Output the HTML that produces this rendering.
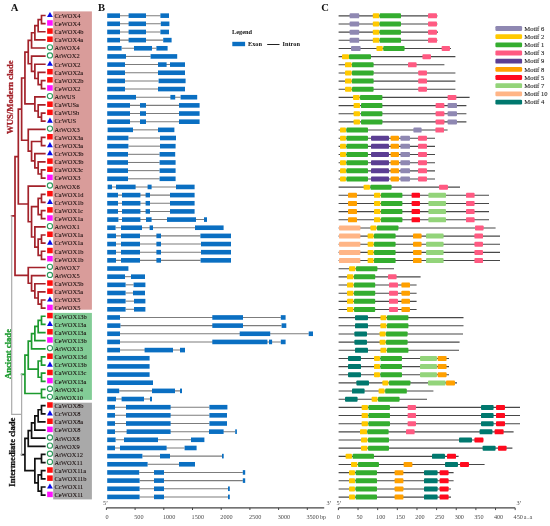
<!DOCTYPE html>
<html><head><meta charset="utf-8"><style>
html,body{margin:0;padding:0;background:#fff;}
body{width:550px;height:526px;overflow:hidden;}
svg{display:block;font-family:"Liberation Serif",serif;will-change:transform;}
.pl{font-size:10.6px;font-weight:bold;fill:#111;}
.nm{font-size:7px;fill:#140808;stroke:#140808;stroke-width:0.06px;}
.lg{font-size:6.3px;font-weight:bold;fill:#111;}
.ax{font-size:6.2px;fill:#4a4a4a;}
.mt{font-size:6.6px;fill:#222;stroke:#222;stroke-width:0.1px;}
</style></head><body>
<svg width="550" height="526" viewBox="0 0 550 526">
<rect x="53.2" y="11.4" width="38.7" height="298.3" fill="#d99c9a"/>
<rect x="53.2" y="312.9" width="38.7" height="87" fill="#82cc96"/>
<rect x="53.2" y="402.7" width="38.7" height="96.7" fill="#a9a9a9"/>
<text x="10.8" y="10.9" class="pl">A</text>
<text x="98.0" y="10.9" class="pl">B</text>
<text x="321.2" y="10.9" class="pl">C</text>
<text transform="translate(12.6,97.2) rotate(-90)" text-anchor="middle" font-size="8.7" font-weight="bold" fill="#a3222a" stroke="#a3222a" stroke-width="0.3">WUS/Modern clade</text>
<text transform="translate(10.7,354) rotate(-90)" text-anchor="middle" font-size="8.6" font-weight="bold" fill="#1c9a2e" stroke="#1c9a2e" stroke-width="0.3">Ancient clade</text>
<text transform="translate(15.3,452.2) rotate(-90)" text-anchor="middle" font-size="8.6" font-weight="bold" fill="#111" stroke="#111" stroke-width="0.3">Intermediate clade</text>
<path d="M15.01 156.55L15.01 275.37M15.01 156.55L18.32 156.55M18.32 109.11L18.32 203.99M18.32 109.11L21.63 109.11M21.63 77.99L21.63 140.23M21.63 77.99L24.94 77.99M24.94 52.08L24.94 103.9M24.94 52.08L28.25 52.08M28.25 40.4L28.25 63.77M28.25 40.4L31.56 40.4M31.56 32.77L31.56 48.02M31.56 32.77L34.87 32.77M34.87 25.66L34.87 39.89M34.87 25.66L38.18 25.66M38.18 19.56L38.18 31.76M38.18 19.56L41.49 19.56M41.49 15.5L41.49 23.63M41.49 15.5L44.8 15.5M41.49 23.63L44.8 23.63M38.18 31.76L44.8 31.76M34.87 39.89L44.8 39.89M31.56 48.02L44.8 48.02M28.25 63.77L31.56 63.77M31.56 56.14L31.56 71.39M31.56 56.14L44.8 56.14M31.56 71.39L34.87 71.39M34.87 64.27L34.87 78.5M34.87 64.27L44.8 64.27M34.87 78.5L38.18 78.5M38.18 72.4L38.18 84.6M38.18 72.4L44.8 72.4M38.18 84.6L41.49 84.6M41.49 80.53L41.49 88.66M41.49 80.53L44.8 80.53M41.49 88.66L44.8 88.66M24.94 103.9L34.87 103.9M34.87 96.79L34.87 111.02M34.87 96.79L44.8 96.79M34.87 111.02L38.18 111.02M38.18 104.92L38.18 117.11M38.18 104.92L44.8 104.92M38.18 117.11L41.49 117.11M41.49 113.05L41.49 121.18M41.49 113.05L44.8 113.05M41.49 121.18L44.8 121.18M21.63 140.23L28.25 140.23M28.25 129.31L28.25 151.15M28.25 129.31L44.8 129.31M28.25 151.15L31.56 151.15M31.56 141.5L31.56 160.81M31.56 141.5L41.49 141.5M41.49 137.44L41.49 145.56M41.49 137.44L44.8 137.44M41.49 145.56L44.8 145.56M31.56 160.81L34.87 160.81M34.87 153.69L34.87 167.92M34.87 153.69L44.8 153.69M34.87 167.92L38.18 167.92M38.18 161.82L38.18 174.02M38.18 161.82L44.8 161.82M38.18 174.02L41.49 174.02M41.49 169.95L41.49 178.08M41.49 169.95L44.8 169.95M41.49 178.08L44.8 178.08M18.32 203.99L28.25 203.99M28.25 186.21L28.25 221.77M28.25 186.21L44.8 186.21M28.25 221.77L31.56 221.77M31.56 206.53L31.56 237.02M31.56 206.53L38.18 206.53M38.18 198.4L38.18 214.66M38.18 198.4L41.49 198.4M41.49 194.34L41.49 202.47M41.49 194.34L44.8 194.34M41.49 202.47L44.8 202.47M38.18 214.66L41.49 214.66M41.49 210.6L41.49 218.72M41.49 210.6L44.8 210.6M41.49 218.72L44.8 218.72M31.56 237.02L34.87 237.02M34.87 226.85L34.87 247.18M34.87 226.85L44.8 226.85M34.87 247.18L38.18 247.18M38.18 239.05L38.18 255.31M38.18 239.05L41.49 239.05M41.49 234.98L41.49 243.11M41.49 234.98L44.8 234.98M41.49 243.11L44.8 243.11M38.18 255.31L41.49 255.31M41.49 251.24L41.49 259.37M41.49 251.24L44.8 251.24M41.49 259.37L44.8 259.37M15.01 275.37L28.25 275.37M28.25 267.5L28.25 283.25M28.25 267.5L44.8 267.5M28.25 283.25L31.56 283.25M31.56 275.63L31.56 290.87M31.56 275.63L44.8 275.63M31.56 290.87L34.87 290.87M34.87 283.76L34.87 297.98M34.87 283.76L44.8 283.76M34.87 297.98L38.18 297.98M38.18 291.89L38.18 304.08M38.18 291.89L44.8 291.89M38.18 304.08L41.49 304.08M41.49 300.01L41.49 308.14M41.49 300.01L44.8 300.01M41.49 308.14L44.8 308.14M11.7 215.96L15.01 215.96" stroke="#a3222a" stroke-width="1.7" fill="none" stroke-linecap="square"/>
<path d="M24.94 355.14L24.94 393.5M24.94 355.14L28.25 355.14M28.25 341.17L28.25 369.11M28.25 341.17L31.56 341.17M31.56 333.55L31.56 348.79M31.56 348.79L44.8 348.79M31.56 333.55L34.87 333.55M34.87 326.43L34.87 340.66M34.87 340.66L44.8 340.66M34.87 326.43L38.18 326.43M38.18 320.34L38.18 332.53M38.18 332.53L44.8 332.53M38.18 320.34L41.49 320.34M41.49 316.27L41.49 324.4M41.49 316.27L44.8 316.27M41.49 324.4L44.8 324.4M28.25 369.11L38.18 369.11M38.18 360.98L38.18 377.24M38.18 360.98L41.49 360.98M41.49 356.92L41.49 365.05M41.49 356.92L44.8 356.92M41.49 365.05L44.8 365.05M38.18 377.24L41.49 377.24M41.49 373.18L41.49 381.31M41.49 373.18L44.8 373.18M41.49 381.31L44.8 381.31M24.94 393.5L41.49 393.5M41.49 389.43L41.49 397.56M41.49 389.43L44.8 389.43M41.49 397.56L44.8 397.56M21.63 374.32L24.94 374.32" stroke="#1c9a2e" stroke-width="1.7" fill="none" stroke-linecap="square"/>
<path d="M24.94 438.46L24.94 470.72M24.94 438.46L28.25 438.46M28.25 430.59L28.25 446.34M28.25 446.34L44.8 446.34M28.25 430.59L31.56 430.59M31.56 422.97L31.56 438.21M31.56 438.21L44.8 438.21M31.56 422.97L34.87 422.97M34.87 415.85L34.87 430.08M34.87 430.08L44.8 430.08M34.87 415.85L38.18 415.85M38.18 409.76L38.18 421.95M38.18 421.95L44.8 421.95M38.18 409.76L41.49 409.76M41.49 405.69L41.49 413.82M41.49 405.69L44.8 405.69M41.49 413.82L44.8 413.82M24.94 470.72L34.87 470.72M34.87 458.53L34.87 482.92M34.87 458.53L41.49 458.53M41.49 454.47L41.49 462.59M41.49 454.47L44.8 454.47M41.49 462.59L44.8 462.59M34.87 482.92L38.18 482.92M38.18 474.79L38.18 491.05M38.18 474.79L41.49 474.79M41.49 470.72L41.49 478.85M41.49 470.72L44.8 470.72M41.49 478.85L44.8 478.85M38.18 491.05L41.49 491.05M41.49 486.98L41.49 495.11M41.49 486.98L44.8 486.98M41.49 495.11L44.8 495.11M21.63 454.59L24.94 454.59" stroke="#111111" stroke-width="1.7" fill="none" stroke-linecap="square"/>
<path d="M11.7 414.46L21.63 414.46M11.7 215.96L11.7 414.46M21.63 374.32L21.63 454.59" stroke="#ababab" stroke-width="1.2" fill="none" stroke-linecap="square"/>
<path d="M49.95 11.9L52.9 17.1L47 17.1Z" fill="#0a0ae6"/>
<text x="0" y="0" class="nm" transform="translate(54.5,17.8) scale(0.925,1)">CcWOX4</text>
<rect x="47.15" y="20.18" width="5.6" height="5.5" fill="#ff10ff"/>
<text x="0" y="0" class="nm" transform="translate(54.5,25.93) scale(0.925,1)">CeWOX4</text>
<rect x="47.15" y="28.31" width="5.6" height="5.5" fill="#ff0d0d"/>
<text x="0" y="0" class="nm" transform="translate(54.5,34.06) scale(0.925,1)">CaWOX4b</text>
<rect x="47.15" y="36.44" width="5.6" height="5.5" fill="#ff0d0d"/>
<text x="0" y="0" class="nm" transform="translate(54.5,42.19) scale(0.925,1)">CaWOX4a</text>
<circle cx="49.95" cy="47.32" r="2.6" fill="none" stroke="#2e9a5c" stroke-width="1.1"/>
<text x="0" y="0" class="nm" transform="translate(54.5,50.32) scale(0.925,1)">AtWOX4</text>
<circle cx="49.95" cy="55.44" r="2.6" fill="none" stroke="#2e9a5c" stroke-width="1.1"/>
<text x="0" y="0" class="nm" transform="translate(54.5,58.44) scale(0.925,1)">AtWOX2</text>
<path d="M49.95 60.67L52.9 65.87L47 65.87Z" fill="#0a0ae6"/>
<text x="0" y="0" class="nm" transform="translate(54.5,66.57) scale(0.925,1)">CcWOX2</text>
<rect x="47.15" y="68.95" width="5.6" height="5.5" fill="#ff0d0d"/>
<text x="0" y="0" class="nm" transform="translate(54.5,74.7) scale(0.925,1)">CaWOX2a</text>
<rect x="47.15" y="77.08" width="5.6" height="5.5" fill="#ff0d0d"/>
<text x="0" y="0" class="nm" transform="translate(54.5,82.83) scale(0.925,1)">CaWOX2b</text>
<rect x="47.15" y="85.21" width="5.6" height="5.5" fill="#ff10ff"/>
<text x="0" y="0" class="nm" transform="translate(54.5,90.96) scale(0.925,1)">CeWOX2</text>
<circle cx="49.95" cy="96.09" r="2.6" fill="none" stroke="#2e9a5c" stroke-width="1.1"/>
<text x="0" y="0" class="nm" transform="translate(54.5,99.09) scale(0.925,1)">AtWUS</text>
<rect x="47.15" y="101.47" width="5.6" height="5.5" fill="#ff0d0d"/>
<text x="0" y="0" class="nm" transform="translate(54.5,107.22) scale(0.925,1)">CaWUSa</text>
<rect x="47.15" y="109.6" width="5.6" height="5.5" fill="#ff0d0d"/>
<text x="0" y="0" class="nm" transform="translate(54.5,115.35) scale(0.925,1)">CaWUSb</text>
<path d="M49.95 117.58L52.9 122.78L47 122.78Z" fill="#0a0ae6"/>
<text x="0" y="0" class="nm" transform="translate(54.5,123.48) scale(0.925,1)">CcWUS</text>
<circle cx="49.95" cy="128.61" r="2.6" fill="none" stroke="#2e9a5c" stroke-width="1.1"/>
<text x="0" y="0" class="nm" transform="translate(54.5,131.61) scale(0.925,1)">AtWOX3</text>
<rect x="47.15" y="133.99" width="5.6" height="5.5" fill="#ff0d0d"/>
<text x="0" y="0" class="nm" transform="translate(54.5,139.74) scale(0.925,1)">CaWOX3a</text>
<path d="M49.95 141.96L52.9 147.16L47 147.16Z" fill="#0a0ae6"/>
<text x="0" y="0" class="nm" transform="translate(54.5,147.86) scale(0.925,1)">CcWOX3a</text>
<path d="M49.95 150.09L52.9 155.29L47 155.29Z" fill="#0a0ae6"/>
<text x="0" y="0" class="nm" transform="translate(54.5,155.99) scale(0.925,1)">CcWOX3b</text>
<rect x="47.15" y="158.37" width="5.6" height="5.5" fill="#ff0d0d"/>
<text x="0" y="0" class="nm" transform="translate(54.5,164.12) scale(0.925,1)">CaWOX3b</text>
<rect x="47.15" y="166.5" width="5.6" height="5.5" fill="#ff0d0d"/>
<text x="0" y="0" class="nm" transform="translate(54.5,172.25) scale(0.925,1)">CaWOX3c</text>
<rect x="47.15" y="174.63" width="5.6" height="5.5" fill="#ff10ff"/>
<text x="0" y="0" class="nm" transform="translate(54.5,180.38) scale(0.925,1)">CeWOX3</text>
<circle cx="49.95" cy="185.51" r="2.6" fill="none" stroke="#2e9a5c" stroke-width="1.1"/>
<text x="0" y="0" class="nm" transform="translate(54.5,188.51) scale(0.925,1)">AtWOX6</text>
<rect x="47.15" y="190.89" width="5.6" height="5.5" fill="#ff0d0d"/>
<text x="0" y="0" class="nm" transform="translate(54.5,196.64) scale(0.925,1)">CaWOX1d</text>
<path d="M49.95 198.87L52.9 204.07L47 204.07Z" fill="#0a0ae6"/>
<text x="0" y="0" class="nm" transform="translate(54.5,204.77) scale(0.925,1)">CcWOX1b</text>
<rect x="47.15" y="207.15" width="5.6" height="5.5" fill="#ff0d0d"/>
<text x="0" y="0" class="nm" transform="translate(54.5,212.9) scale(0.925,1)">CaWOX1c</text>
<rect x="47.15" y="215.28" width="5.6" height="5.5" fill="#ff10ff"/>
<text x="0" y="0" class="nm" transform="translate(54.5,221.03) scale(0.925,1)">CeWOX1a</text>
<circle cx="49.95" cy="226.15" r="2.6" fill="none" stroke="#2e9a5c" stroke-width="1.1"/>
<text x="0" y="0" class="nm" transform="translate(54.5,229.15) scale(0.925,1)">AtWOX1</text>
<rect x="47.15" y="231.53" width="5.6" height="5.5" fill="#ff0d0d"/>
<text x="0" y="0" class="nm" transform="translate(54.5,237.28) scale(0.925,1)">CaWOX1a</text>
<path d="M49.95 239.51L52.9 244.71L47 244.71Z" fill="#0a0ae6"/>
<text x="0" y="0" class="nm" transform="translate(54.5,245.41) scale(0.925,1)">CcWOX1a</text>
<rect x="47.15" y="247.79" width="5.6" height="5.5" fill="#ff0d0d"/>
<text x="0" y="0" class="nm" transform="translate(54.5,253.54) scale(0.925,1)">CaWOX1b</text>
<rect x="47.15" y="255.92" width="5.6" height="5.5" fill="#ff10ff"/>
<text x="0" y="0" class="nm" transform="translate(54.5,261.67) scale(0.925,1)">CeWOX1b</text>
<circle cx="49.95" cy="266.8" r="2.6" fill="none" stroke="#2e9a5c" stroke-width="1.1"/>
<text x="0" y="0" class="nm" transform="translate(54.5,269.8) scale(0.925,1)">AtWOX7</text>
<circle cx="49.95" cy="274.93" r="2.6" fill="none" stroke="#2e9a5c" stroke-width="1.1"/>
<text x="0" y="0" class="nm" transform="translate(54.5,277.93) scale(0.925,1)">AtWOX5</text>
<rect x="47.15" y="280.31" width="5.6" height="5.5" fill="#ff0d0d"/>
<text x="0" y="0" class="nm" transform="translate(54.5,286.06) scale(0.925,1)">CaWOX5b</text>
<rect x="47.15" y="288.44" width="5.6" height="5.5" fill="#ff0d0d"/>
<text x="0" y="0" class="nm" transform="translate(54.5,294.19) scale(0.925,1)">CaWOX5a</text>
<path d="M49.95 296.42L52.9 301.62L47 301.62Z" fill="#0a0ae6"/>
<text x="0" y="0" class="nm" transform="translate(54.5,302.31) scale(0.925,1)">CcWOX5</text>
<rect x="47.15" y="304.69" width="5.6" height="5.5" fill="#ff10ff"/>
<text x="0" y="0" class="nm" transform="translate(54.5,310.44) scale(0.925,1)">CeWOX5</text>
<rect x="47.15" y="312.82" width="5.6" height="5.5" fill="#ff0d0d"/>
<text x="0" y="0" class="nm" transform="translate(54.5,318.57) scale(0.925,1)">CaWOX13b</text>
<path d="M49.95 320.8L52.9 326L47 326Z" fill="#0a0ae6"/>
<text x="0" y="0" class="nm" transform="translate(54.5,326.7) scale(0.925,1)">CcWOX13a</text>
<rect x="47.15" y="329.08" width="5.6" height="5.5" fill="#ff0d0d"/>
<text x="0" y="0" class="nm" transform="translate(54.5,334.83) scale(0.925,1)">CaWOX13a</text>
<rect x="47.15" y="337.21" width="5.6" height="5.5" fill="#ff10ff"/>
<text x="0" y="0" class="nm" transform="translate(54.5,342.96) scale(0.925,1)">CeWOX13b</text>
<circle cx="49.95" cy="348.09" r="2.6" fill="none" stroke="#2e9a5c" stroke-width="1.1"/>
<text x="0" y="0" class="nm" transform="translate(54.5,351.09) scale(0.925,1)">AtWOX13</text>
<rect x="47.15" y="353.47" width="5.6" height="5.5" fill="#ff0d0d"/>
<text x="0" y="0" class="nm" transform="translate(54.5,359.22) scale(0.925,1)">CaWOX13d</text>
<path d="M49.95 361.45L52.9 366.65L47 366.65Z" fill="#0a0ae6"/>
<text x="0" y="0" class="nm" transform="translate(54.5,367.35) scale(0.925,1)">CcWOX13b</text>
<rect x="47.15" y="369.73" width="5.6" height="5.5" fill="#ff0d0d"/>
<text x="0" y="0" class="nm" transform="translate(54.5,375.48) scale(0.925,1)">CaWOX13c</text>
<rect x="47.15" y="377.86" width="5.6" height="5.5" fill="#ff10ff"/>
<text x="0" y="0" class="nm" transform="translate(54.5,383.61) scale(0.925,1)">CeWOX13a</text>
<circle cx="49.95" cy="388.73" r="2.6" fill="none" stroke="#2e9a5c" stroke-width="1.1"/>
<text x="0" y="0" class="nm" transform="translate(54.5,391.73) scale(0.925,1)">AtWOX14</text>
<circle cx="49.95" cy="396.86" r="2.6" fill="none" stroke="#2e9a5c" stroke-width="1.1"/>
<text x="0" y="0" class="nm" transform="translate(54.5,399.86) scale(0.925,1)">AtWOX10</text>
<rect x="47.15" y="402.24" width="5.6" height="5.5" fill="#ff0d0d"/>
<text x="0" y="0" class="nm" transform="translate(54.5,407.99) scale(0.925,1)">CaWOX8b</text>
<path d="M49.95 410.22L52.9 415.42L47 415.42Z" fill="#0a0ae6"/>
<text x="0" y="0" class="nm" transform="translate(54.5,416.12) scale(0.925,1)">CcWOX8</text>
<rect x="47.15" y="418.5" width="5.6" height="5.5" fill="#ff0d0d"/>
<text x="0" y="0" class="nm" transform="translate(54.5,424.25) scale(0.925,1)">CaWOX8a</text>
<rect x="47.15" y="426.63" width="5.6" height="5.5" fill="#ff10ff"/>
<text x="0" y="0" class="nm" transform="translate(54.5,432.38) scale(0.925,1)">CeWOX8</text>
<circle cx="49.95" cy="437.51" r="2.6" fill="none" stroke="#2e9a5c" stroke-width="1.1"/>
<text x="0" y="0" class="nm" transform="translate(54.5,440.51) scale(0.925,1)">AtWOX8</text>
<circle cx="49.95" cy="445.64" r="2.6" fill="none" stroke="#2e9a5c" stroke-width="1.1"/>
<text x="0" y="0" class="nm" transform="translate(54.5,448.64) scale(0.925,1)">AtWOX9</text>
<circle cx="49.95" cy="453.77" r="2.6" fill="none" stroke="#2e9a5c" stroke-width="1.1"/>
<text x="0" y="0" class="nm" transform="translate(54.5,456.77) scale(0.925,1)">AtWOX12</text>
<circle cx="49.95" cy="461.89" r="2.6" fill="none" stroke="#2e9a5c" stroke-width="1.1"/>
<text x="0" y="0" class="nm" transform="translate(54.5,464.89) scale(0.925,1)">AtWOX11</text>
<rect x="47.15" y="467.27" width="5.6" height="5.5" fill="#ff0d0d"/>
<text x="0" y="0" class="nm" transform="translate(54.5,473.02) scale(0.925,1)">CaWOX11a</text>
<rect x="47.15" y="475.4" width="5.6" height="5.5" fill="#ff0d0d"/>
<text x="0" y="0" class="nm" transform="translate(54.5,481.15) scale(0.925,1)">CaWOX11b</text>
<path d="M49.95 483.38L52.9 488.58L47 488.58Z" fill="#0a0ae6"/>
<text x="0" y="0" class="nm" transform="translate(54.5,489.28) scale(0.925,1)">CcWOX11</text>
<rect x="47.15" y="491.66" width="5.6" height="5.5" fill="#ff10ff"/>
<text x="0" y="0" class="nm" transform="translate(54.5,497.41) scale(0.925,1)">CeWOX11</text>
<line x1="120" y1="15.65" x2="160.4" y2="15.65" stroke="#7c7c7c" stroke-width="1.05"/>
<rect x="107.2" y="13.35" width="12.8" height="4.6" fill="#0a6fc2"/>
<rect x="128.6" y="13.35" width="17.4" height="4.6" fill="#0a6fc2"/>
<rect x="160.4" y="13.35" width="8.6" height="4.6" fill="#0a6fc2"/>
<line x1="120" y1="23.81" x2="160.8" y2="23.81" stroke="#7c7c7c" stroke-width="1.05"/>
<rect x="107.2" y="21.51" width="12.8" height="4.6" fill="#0a6fc2"/>
<rect x="128.6" y="21.51" width="17.4" height="4.6" fill="#0a6fc2"/>
<rect x="160.8" y="21.51" width="8.6" height="4.6" fill="#0a6fc2"/>
<line x1="120" y1="31.96" x2="160.4" y2="31.96" stroke="#7c7c7c" stroke-width="1.05"/>
<rect x="107.2" y="29.66" width="12.8" height="4.6" fill="#0a6fc2"/>
<rect x="128.6" y="29.66" width="17.4" height="4.6" fill="#0a6fc2"/>
<rect x="160.4" y="29.66" width="8.6" height="4.6" fill="#0a6fc2"/>
<line x1="120" y1="40.12" x2="163.2" y2="40.12" stroke="#7c7c7c" stroke-width="1.05"/>
<rect x="107.2" y="37.82" width="12.8" height="4.6" fill="#0a6fc2"/>
<rect x="128.6" y="37.82" width="17.4" height="4.6" fill="#0a6fc2"/>
<rect x="163.2" y="37.82" width="8.4" height="4.6" fill="#0a6fc2"/>
<line x1="121.6" y1="48.28" x2="156.4" y2="48.28" stroke="#7c7c7c" stroke-width="1.05"/>
<rect x="107.6" y="45.98" width="14" height="4.6" fill="#0a6fc2"/>
<rect x="134" y="45.98" width="18" height="4.6" fill="#0a6fc2"/>
<rect x="156.4" y="45.98" width="11.2" height="4.6" fill="#0a6fc2"/>
<line x1="126" y1="56.43" x2="150.6" y2="56.43" stroke="#7c7c7c" stroke-width="1.05"/>
<rect x="107.2" y="54.13" width="18.8" height="4.6" fill="#0a6fc2"/>
<rect x="150.6" y="54.13" width="26.6" height="4.6" fill="#0a6fc2"/>
<line x1="125" y1="64.59" x2="170" y2="64.59" stroke="#7c7c7c" stroke-width="1.05"/>
<rect x="107.2" y="62.29" width="17.8" height="4.6" fill="#0a6fc2"/>
<rect x="158" y="62.29" width="8.6" height="4.6" fill="#0a6fc2"/>
<rect x="170" y="62.29" width="15" height="4.6" fill="#0a6fc2"/>
<line x1="125" y1="72.75" x2="158" y2="72.75" stroke="#7c7c7c" stroke-width="1.05"/>
<rect x="107.2" y="70.45" width="17.8" height="4.6" fill="#0a6fc2"/>
<rect x="158" y="70.45" width="27" height="4.6" fill="#0a6fc2"/>
<line x1="125" y1="80.91" x2="158.6" y2="80.91" stroke="#7c7c7c" stroke-width="1.05"/>
<rect x="107.2" y="78.61" width="17.8" height="4.6" fill="#0a6fc2"/>
<rect x="158.6" y="78.61" width="27" height="4.6" fill="#0a6fc2"/>
<line x1="125" y1="89.06" x2="158" y2="89.06" stroke="#7c7c7c" stroke-width="1.05"/>
<rect x="107.2" y="86.76" width="17.8" height="4.6" fill="#0a6fc2"/>
<rect x="158" y="86.76" width="27" height="4.6" fill="#0a6fc2"/>
<line x1="136" y1="97.22" x2="180.6" y2="97.22" stroke="#7c7c7c" stroke-width="1.05"/>
<rect x="107.2" y="94.92" width="28.8" height="4.6" fill="#0a6fc2"/>
<rect x="170.4" y="94.92" width="4.8" height="4.6" fill="#0a6fc2"/>
<rect x="180.6" y="94.92" width="16.6" height="4.6" fill="#0a6fc2"/>
<line x1="130" y1="105.38" x2="179" y2="105.38" stroke="#7c7c7c" stroke-width="1.05"/>
<rect x="107.2" y="103.08" width="22.8" height="4.6" fill="#0a6fc2"/>
<rect x="140" y="103.08" width="6" height="4.6" fill="#0a6fc2"/>
<rect x="179" y="103.08" width="20.6" height="4.6" fill="#0a6fc2"/>
<line x1="130" y1="113.53" x2="179" y2="113.53" stroke="#7c7c7c" stroke-width="1.05"/>
<rect x="107.2" y="111.23" width="22.8" height="4.6" fill="#0a6fc2"/>
<rect x="140" y="111.23" width="6" height="4.6" fill="#0a6fc2"/>
<rect x="179" y="111.23" width="20.6" height="4.6" fill="#0a6fc2"/>
<line x1="130" y1="121.69" x2="179" y2="121.69" stroke="#7c7c7c" stroke-width="1.05"/>
<rect x="107.2" y="119.39" width="22.8" height="4.6" fill="#0a6fc2"/>
<rect x="140" y="119.39" width="6" height="4.6" fill="#0a6fc2"/>
<rect x="179" y="119.39" width="20.6" height="4.6" fill="#0a6fc2"/>
<line x1="133" y1="129.85" x2="158" y2="129.85" stroke="#7c7c7c" stroke-width="1.05"/>
<rect x="107.6" y="127.55" width="25.4" height="4.6" fill="#0a6fc2"/>
<rect x="158" y="127.55" width="16.4" height="4.6" fill="#0a6fc2"/>
<line x1="128.4" y1="138" x2="160" y2="138" stroke="#7c7c7c" stroke-width="1.05"/>
<rect x="107.2" y="135.7" width="21.2" height="4.6" fill="#0a6fc2"/>
<rect x="160" y="135.7" width="16" height="4.6" fill="#0a6fc2"/>
<line x1="128.4" y1="146.16" x2="160" y2="146.16" stroke="#7c7c7c" stroke-width="1.05"/>
<rect x="107.2" y="143.86" width="21.2" height="4.6" fill="#0a6fc2"/>
<rect x="160" y="143.86" width="15.6" height="4.6" fill="#0a6fc2"/>
<line x1="128" y1="154.32" x2="159.6" y2="154.32" stroke="#7c7c7c" stroke-width="1.05"/>
<rect x="107.2" y="152.02" width="20.8" height="4.6" fill="#0a6fc2"/>
<rect x="159.6" y="152.02" width="15.6" height="4.6" fill="#0a6fc2"/>
<line x1="128" y1="162.48" x2="159.6" y2="162.48" stroke="#7c7c7c" stroke-width="1.05"/>
<rect x="107.2" y="160.18" width="20.8" height="4.6" fill="#0a6fc2"/>
<rect x="159.6" y="160.18" width="16" height="4.6" fill="#0a6fc2"/>
<line x1="128" y1="170.63" x2="159.6" y2="170.63" stroke="#7c7c7c" stroke-width="1.05"/>
<rect x="107.2" y="168.33" width="20.8" height="4.6" fill="#0a6fc2"/>
<rect x="159.6" y="168.33" width="16" height="4.6" fill="#0a6fc2"/>
<line x1="128" y1="178.79" x2="159.6" y2="178.79" stroke="#7c7c7c" stroke-width="1.05"/>
<rect x="107.2" y="176.49" width="20.8" height="4.6" fill="#0a6fc2"/>
<rect x="159.6" y="176.49" width="16" height="4.6" fill="#0a6fc2"/>
<line x1="112" y1="186.95" x2="176" y2="186.95" stroke="#7c7c7c" stroke-width="1.05"/>
<rect x="107.6" y="184.65" width="4.4" height="4.6" fill="#0a6fc2"/>
<rect x="116" y="184.65" width="19.6" height="4.6" fill="#0a6fc2"/>
<rect x="147.6" y="184.65" width="4" height="4.6" fill="#0a6fc2"/>
<rect x="176" y="184.65" width="18.6" height="4.6" fill="#0a6fc2"/>
<line x1="118" y1="195.1" x2="170" y2="195.1" stroke="#7c7c7c" stroke-width="1.05"/>
<rect x="107.2" y="192.8" width="10.8" height="4.6" fill="#0a6fc2"/>
<rect x="122" y="192.8" width="18.4" height="4.6" fill="#0a6fc2"/>
<rect x="145.6" y="192.8" width="4.4" height="4.6" fill="#0a6fc2"/>
<rect x="170" y="192.8" width="24.6" height="4.6" fill="#0a6fc2"/>
<line x1="118" y1="203.26" x2="170" y2="203.26" stroke="#7c7c7c" stroke-width="1.05"/>
<rect x="107.2" y="200.96" width="10.8" height="4.6" fill="#0a6fc2"/>
<rect x="122" y="200.96" width="18.4" height="4.6" fill="#0a6fc2"/>
<rect x="145.6" y="200.96" width="4.4" height="4.6" fill="#0a6fc2"/>
<rect x="170" y="200.96" width="24.6" height="4.6" fill="#0a6fc2"/>
<line x1="118" y1="211.42" x2="170" y2="211.42" stroke="#7c7c7c" stroke-width="1.05"/>
<rect x="107.2" y="209.12" width="10.8" height="4.6" fill="#0a6fc2"/>
<rect x="122" y="209.12" width="18.4" height="4.6" fill="#0a6fc2"/>
<rect x="145.6" y="209.12" width="4.4" height="4.6" fill="#0a6fc2"/>
<rect x="170" y="209.12" width="24.6" height="4.6" fill="#0a6fc2"/>
<line x1="118.4" y1="219.58" x2="204" y2="219.58" stroke="#7c7c7c" stroke-width="1.05"/>
<rect x="107.2" y="217.28" width="11.2" height="4.6" fill="#0a6fc2"/>
<rect x="122" y="217.28" width="18.4" height="4.6" fill="#0a6fc2"/>
<rect x="146" y="217.28" width="5.6" height="4.6" fill="#0a6fc2"/>
<rect x="167" y="217.28" width="29" height="4.6" fill="#0a6fc2"/>
<rect x="204" y="217.28" width="3" height="4.6" fill="#0a6fc2"/>
<line x1="115.6" y1="227.73" x2="195" y2="227.73" stroke="#7c7c7c" stroke-width="1.05"/>
<rect x="107.2" y="225.43" width="8.4" height="4.6" fill="#0a6fc2"/>
<rect x="121" y="225.43" width="21" height="4.6" fill="#0a6fc2"/>
<rect x="149.6" y="225.43" width="3.4" height="4.6" fill="#0a6fc2"/>
<rect x="195" y="225.43" width="28.6" height="4.6" fill="#0a6fc2"/>
<line x1="116" y1="235.89" x2="200.4" y2="235.89" stroke="#7c7c7c" stroke-width="1.05"/>
<rect x="107.2" y="233.59" width="8.8" height="4.6" fill="#0a6fc2"/>
<rect x="121" y="233.59" width="19" height="4.6" fill="#0a6fc2"/>
<rect x="156.4" y="233.59" width="4.6" height="4.6" fill="#0a6fc2"/>
<rect x="200.4" y="233.59" width="30.6" height="4.6" fill="#0a6fc2"/>
<line x1="116" y1="244.05" x2="201" y2="244.05" stroke="#7c7c7c" stroke-width="1.05"/>
<rect x="107.2" y="241.75" width="8.8" height="4.6" fill="#0a6fc2"/>
<rect x="121" y="241.75" width="19" height="4.6" fill="#0a6fc2"/>
<rect x="156.4" y="241.75" width="4.6" height="4.6" fill="#0a6fc2"/>
<rect x="201" y="241.75" width="30" height="4.6" fill="#0a6fc2"/>
<line x1="116" y1="252.2" x2="201" y2="252.2" stroke="#7c7c7c" stroke-width="1.05"/>
<rect x="107.2" y="249.9" width="8.8" height="4.6" fill="#0a6fc2"/>
<rect x="121" y="249.9" width="19" height="4.6" fill="#0a6fc2"/>
<rect x="156.4" y="249.9" width="4.6" height="4.6" fill="#0a6fc2"/>
<rect x="201" y="249.9" width="30" height="4.6" fill="#0a6fc2"/>
<line x1="116" y1="260.36" x2="200.6" y2="260.36" stroke="#7c7c7c" stroke-width="1.05"/>
<rect x="107.2" y="258.06" width="8.8" height="4.6" fill="#0a6fc2"/>
<rect x="121" y="258.06" width="19" height="4.6" fill="#0a6fc2"/>
<rect x="156.4" y="258.06" width="4.6" height="4.6" fill="#0a6fc2"/>
<rect x="200.6" y="258.06" width="30.4" height="4.6" fill="#0a6fc2"/>
<rect x="107.2" y="266.22" width="21.2" height="4.6" fill="#0a6fc2"/>
<line x1="125" y1="276.67" x2="131" y2="276.67" stroke="#7c7c7c" stroke-width="1.05"/>
<rect x="107.2" y="274.37" width="17.8" height="4.6" fill="#0a6fc2"/>
<rect x="131" y="274.37" width="14" height="4.6" fill="#0a6fc2"/>
<line x1="125.6" y1="284.83" x2="133.6" y2="284.83" stroke="#7c7c7c" stroke-width="1.05"/>
<rect x="107.2" y="282.53" width="18.4" height="4.6" fill="#0a6fc2"/>
<rect x="133.6" y="282.53" width="11.8" height="4.6" fill="#0a6fc2"/>
<line x1="125.6" y1="292.99" x2="133" y2="292.99" stroke="#7c7c7c" stroke-width="1.05"/>
<rect x="107.2" y="290.69" width="18.4" height="4.6" fill="#0a6fc2"/>
<rect x="133" y="290.69" width="12" height="4.6" fill="#0a6fc2"/>
<line x1="125.6" y1="301.14" x2="134" y2="301.14" stroke="#7c7c7c" stroke-width="1.05"/>
<rect x="107.2" y="298.84" width="18.4" height="4.6" fill="#0a6fc2"/>
<rect x="134" y="298.84" width="11.4" height="4.6" fill="#0a6fc2"/>
<line x1="125.6" y1="309.3" x2="134" y2="309.3" stroke="#7c7c7c" stroke-width="1.05"/>
<rect x="107.2" y="307" width="18.4" height="4.6" fill="#0a6fc2"/>
<rect x="134" y="307" width="11.4" height="4.6" fill="#0a6fc2"/>
<line x1="120" y1="317.46" x2="280.8" y2="317.46" stroke="#7c7c7c" stroke-width="1.05"/>
<rect x="107.2" y="315.16" width="12.8" height="4.6" fill="#0a6fc2"/>
<rect x="212.3" y="315.16" width="30.7" height="4.6" fill="#0a6fc2"/>
<rect x="280.8" y="315.16" width="4.8" height="4.6" fill="#0a6fc2"/>
<line x1="120.4" y1="325.62" x2="281.6" y2="325.62" stroke="#7c7c7c" stroke-width="1.05"/>
<rect x="107.2" y="323.32" width="13.2" height="4.6" fill="#0a6fc2"/>
<rect x="212.3" y="323.32" width="30.7" height="4.6" fill="#0a6fc2"/>
<rect x="281.6" y="323.32" width="4.7" height="4.6" fill="#0a6fc2"/>
<line x1="120" y1="333.77" x2="308.7" y2="333.77" stroke="#7c7c7c" stroke-width="1.05"/>
<rect x="107.2" y="331.47" width="12.8" height="4.6" fill="#0a6fc2"/>
<rect x="239.7" y="331.47" width="30.5" height="4.6" fill="#0a6fc2"/>
<rect x="308.7" y="331.47" width="4.3" height="4.6" fill="#0a6fc2"/>
<line x1="120" y1="341.93" x2="280.8" y2="341.93" stroke="#7c7c7c" stroke-width="1.05"/>
<rect x="107.2" y="339.63" width="12.8" height="4.6" fill="#0a6fc2"/>
<rect x="212.3" y="339.63" width="55.1" height="4.6" fill="#0a6fc2"/>
<rect x="269" y="339.63" width="3.1" height="4.6" fill="#0a6fc2"/>
<rect x="280.8" y="339.63" width="4.8" height="4.6" fill="#0a6fc2"/>
<line x1="120" y1="350.09" x2="180" y2="350.09" stroke="#7c7c7c" stroke-width="1.05"/>
<rect x="107.2" y="347.79" width="12.8" height="4.6" fill="#0a6fc2"/>
<rect x="144.6" y="347.79" width="28.4" height="4.6" fill="#0a6fc2"/>
<rect x="180" y="347.79" width="5" height="4.6" fill="#0a6fc2"/>
<rect x="107.2" y="355.94" width="42.4" height="4.6" fill="#0a6fc2"/>
<rect x="107.2" y="364.1" width="42.4" height="4.6" fill="#0a6fc2"/>
<rect x="107.2" y="372.26" width="42.4" height="4.6" fill="#0a6fc2"/>
<rect x="107.2" y="380.41" width="45.8" height="4.6" fill="#0a6fc2"/>
<line x1="119.2" y1="390.87" x2="180" y2="390.87" stroke="#7c7c7c" stroke-width="1.05"/>
<rect x="107.2" y="388.57" width="12" height="4.6" fill="#0a6fc2"/>
<rect x="152" y="388.57" width="23" height="4.6" fill="#0a6fc2"/>
<rect x="180" y="388.57" width="2" height="4.6" fill="#0a6fc2"/>
<line x1="116" y1="399.03" x2="150" y2="399.03" stroke="#7c7c7c" stroke-width="1.05"/>
<rect x="107.2" y="396.73" width="8.8" height="4.6" fill="#0a6fc2"/>
<rect x="121.6" y="396.73" width="22.4" height="4.6" fill="#0a6fc2"/>
<rect x="150" y="396.73" width="2" height="4.6" fill="#0a6fc2"/>
<line x1="115" y1="407.19" x2="209.4" y2="407.19" stroke="#7c7c7c" stroke-width="1.05"/>
<rect x="107.2" y="404.89" width="7.8" height="4.6" fill="#0a6fc2"/>
<rect x="126" y="404.89" width="44.6" height="4.6" fill="#0a6fc2"/>
<rect x="209.4" y="404.89" width="18" height="4.6" fill="#0a6fc2"/>
<line x1="115" y1="415.34" x2="209.4" y2="415.34" stroke="#7c7c7c" stroke-width="1.05"/>
<rect x="107.2" y="413.04" width="7.8" height="4.6" fill="#0a6fc2"/>
<rect x="126" y="413.04" width="44.6" height="4.6" fill="#0a6fc2"/>
<rect x="209.4" y="413.04" width="17.6" height="4.6" fill="#0a6fc2"/>
<line x1="115" y1="423.5" x2="209.4" y2="423.5" stroke="#7c7c7c" stroke-width="1.05"/>
<rect x="107.2" y="421.2" width="7.8" height="4.6" fill="#0a6fc2"/>
<rect x="126" y="421.2" width="44.6" height="4.6" fill="#0a6fc2"/>
<rect x="209.4" y="421.2" width="17.6" height="4.6" fill="#0a6fc2"/>
<line x1="115" y1="431.66" x2="235.2" y2="431.66" stroke="#7c7c7c" stroke-width="1.05"/>
<rect x="107.2" y="429.36" width="7.8" height="4.6" fill="#0a6fc2"/>
<rect x="126.6" y="429.36" width="44" height="4.6" fill="#0a6fc2"/>
<rect x="209" y="429.36" width="14.6" height="4.6" fill="#0a6fc2"/>
<rect x="235.2" y="429.36" width="1.7" height="4.6" fill="#0a6fc2"/>
<line x1="115.6" y1="439.81" x2="191" y2="439.81" stroke="#7c7c7c" stroke-width="1.05"/>
<rect x="107.2" y="437.51" width="8.4" height="4.6" fill="#0a6fc2"/>
<rect x="124" y="437.51" width="34" height="4.6" fill="#0a6fc2"/>
<rect x="191" y="437.51" width="13.4" height="4.6" fill="#0a6fc2"/>
<line x1="115" y1="447.97" x2="184.6" y2="447.97" stroke="#7c7c7c" stroke-width="1.05"/>
<rect x="107.2" y="445.67" width="7.8" height="4.6" fill="#0a6fc2"/>
<rect x="120" y="445.67" width="46.6" height="4.6" fill="#0a6fc2"/>
<rect x="184.6" y="445.67" width="12" height="4.6" fill="#0a6fc2"/>
<line x1="142.4" y1="456.13" x2="222" y2="456.13" stroke="#7c7c7c" stroke-width="1.05"/>
<rect x="107.2" y="453.83" width="35.2" height="4.6" fill="#0a6fc2"/>
<rect x="160" y="453.83" width="10" height="4.6" fill="#0a6fc2"/>
<rect x="222" y="453.83" width="1.7" height="4.6" fill="#0a6fc2"/>
<line x1="147.6" y1="464.28" x2="179" y2="464.28" stroke="#7c7c7c" stroke-width="1.05"/>
<rect x="107.2" y="461.98" width="40.4" height="4.6" fill="#0a6fc2"/>
<rect x="179" y="461.98" width="16" height="4.6" fill="#0a6fc2"/>
<line x1="139.2" y1="472.44" x2="242.8" y2="472.44" stroke="#7c7c7c" stroke-width="1.05"/>
<rect x="107.2" y="470.14" width="32" height="4.6" fill="#0a6fc2"/>
<rect x="154" y="470.14" width="10" height="4.6" fill="#0a6fc2"/>
<rect x="242.8" y="470.14" width="2.4" height="4.6" fill="#0a6fc2"/>
<line x1="139.6" y1="480.6" x2="242.8" y2="480.6" stroke="#7c7c7c" stroke-width="1.05"/>
<rect x="107.2" y="478.3" width="32.4" height="4.6" fill="#0a6fc2"/>
<rect x="154" y="478.3" width="10" height="4.6" fill="#0a6fc2"/>
<rect x="242.8" y="478.3" width="2.4" height="4.6" fill="#0a6fc2"/>
<line x1="139.6" y1="488.76" x2="228" y2="488.76" stroke="#7c7c7c" stroke-width="1.05"/>
<rect x="107.2" y="486.46" width="32.4" height="4.6" fill="#0a6fc2"/>
<rect x="154" y="486.46" width="10" height="4.6" fill="#0a6fc2"/>
<rect x="228" y="486.46" width="1.8" height="4.6" fill="#0a6fc2"/>
<line x1="139.6" y1="496.91" x2="228" y2="496.91" stroke="#7c7c7c" stroke-width="1.05"/>
<rect x="107.2" y="494.61" width="32.4" height="4.6" fill="#0a6fc2"/>
<rect x="154" y="494.61" width="10" height="4.6" fill="#0a6fc2"/>
<rect x="228" y="494.61" width="1.8" height="4.6" fill="#0a6fc2"/>
<text x="232" y="34.2" class="lg">Legend</text>
<rect x="232.3" y="41.8" width="12.8" height="4.4" fill="#0a6fc2"/>
<text x="248" y="45.9" class="lg">Exon</text>
<line x1="267.2" y1="44.5" x2="279.5" y2="44.5" stroke="#222" stroke-width="1"/>
<text x="282.5" y="45.9" class="lg">Intron</text>
<line x1="106.4" y1="507.8" x2="324.2" y2="507.8" stroke="#444" stroke-width="1.3"/>
<line x1="106.4" y1="507.8" x2="106.4" y2="510" stroke="#444" stroke-width="1"/>
<line x1="135.1" y1="507.8" x2="135.1" y2="510" stroke="#444" stroke-width="1"/>
<line x1="163.8" y1="507.8" x2="163.8" y2="510" stroke="#444" stroke-width="1"/>
<line x1="192.5" y1="507.8" x2="192.5" y2="510" stroke="#444" stroke-width="1"/>
<line x1="221.2" y1="507.8" x2="221.2" y2="510" stroke="#444" stroke-width="1"/>
<line x1="249.9" y1="507.8" x2="249.9" y2="510" stroke="#444" stroke-width="1"/>
<line x1="278.6" y1="507.8" x2="278.6" y2="510" stroke="#444" stroke-width="1"/>
<line x1="307.3" y1="507.8" x2="307.3" y2="510" stroke="#444" stroke-width="1"/>
<text x="105.5" y="519.3" class="ax">0</text>
<text x="134.2" y="519.3" class="ax">500</text>
<text x="162.9" y="519.3" class="ax">1000</text>
<text x="191.6" y="519.3" class="ax">1500</text>
<text x="220.3" y="519.3" class="ax">2000</text>
<text x="249" y="519.3" class="ax">2500</text>
<text x="277.7" y="519.3" class="ax">3000</text>
<text x="306.4" y="519.3" class="ax">3500</text>
<text x="320" y="519.3" class="ax">bp</text>
<text x="103" y="504.6" class="ax">5’</text>
<text x="326.4" y="504.6" class="ax">3’</text>
<line x1="338.6" y1="15.85" x2="437.4" y2="15.85" stroke="#484848" stroke-width="1.1"/>
<rect x="349.6" y="13.35" width="9.6" height="5" rx="0.9" fill="#8f88b2"/>
<rect x="372.8" y="13.35" width="6.4" height="5" rx="0.9" fill="#ffc900"/>
<rect x="379.6" y="13.35" width="21.4" height="5" rx="0.9" fill="#34ad2f"/>
<rect x="428" y="13.35" width="9" height="5" rx="0.9" fill="#ff5a82"/>
<line x1="338.6" y1="24.01" x2="437.4" y2="24.01" stroke="#484848" stroke-width="1.1"/>
<rect x="349.6" y="21.51" width="9.6" height="5" rx="0.9" fill="#8f88b2"/>
<rect x="372.8" y="21.51" width="6.4" height="5" rx="0.9" fill="#ffc900"/>
<rect x="379.6" y="21.51" width="21.4" height="5" rx="0.9" fill="#34ad2f"/>
<rect x="428" y="21.51" width="9" height="5" rx="0.9" fill="#ff5a82"/>
<line x1="338.6" y1="32.16" x2="438" y2="32.16" stroke="#484848" stroke-width="1.1"/>
<rect x="349.6" y="29.66" width="9.6" height="5" rx="0.9" fill="#8f88b2"/>
<rect x="372.8" y="29.66" width="6.4" height="5" rx="0.9" fill="#ffc900"/>
<rect x="379.6" y="29.66" width="21.4" height="5" rx="0.9" fill="#34ad2f"/>
<rect x="428" y="29.66" width="9" height="5" rx="0.9" fill="#ff5a82"/>
<line x1="338.6" y1="40.32" x2="437.4" y2="40.32" stroke="#484848" stroke-width="1.1"/>
<rect x="349.6" y="37.82" width="9.6" height="5" rx="0.9" fill="#8f88b2"/>
<rect x="372.8" y="37.82" width="6.4" height="5" rx="0.9" fill="#ffc900"/>
<rect x="379.6" y="37.82" width="21.4" height="5" rx="0.9" fill="#34ad2f"/>
<rect x="428" y="37.82" width="9" height="5" rx="0.9" fill="#ff5a82"/>
<line x1="338.6" y1="48.48" x2="451" y2="48.48" stroke="#484848" stroke-width="1.1"/>
<rect x="351" y="45.98" width="9.6" height="5" rx="0.9" fill="#8f88b2"/>
<rect x="376.4" y="45.98" width="6.4" height="5" rx="0.9" fill="#ffc900"/>
<rect x="383.2" y="45.98" width="21.4" height="5" rx="0.9" fill="#34ad2f"/>
<rect x="441.6" y="45.98" width="8.4" height="5" rx="0.9" fill="#ff5a82"/>
<line x1="338.6" y1="56.63" x2="455.4" y2="56.63" stroke="#484848" stroke-width="1.1"/>
<rect x="342" y="54.13" width="7" height="5" rx="0.9" fill="#ffc900"/>
<rect x="349" y="54.13" width="22" height="5" rx="0.9" fill="#34ad2f"/>
<rect x="422.4" y="54.13" width="8.6" height="5" rx="0.9" fill="#ff5a82"/>
<line x1="338.6" y1="64.79" x2="444.4" y2="64.79" stroke="#484848" stroke-width="1.1"/>
<rect x="345" y="62.29" width="6.6" height="5" rx="0.9" fill="#ffc900"/>
<rect x="352" y="62.29" width="21.6" height="5" rx="0.9" fill="#34ad2f"/>
<rect x="408" y="62.29" width="8.6" height="5" rx="0.9" fill="#ff5a82"/>
<line x1="338.6" y1="72.95" x2="455.4" y2="72.95" stroke="#484848" stroke-width="1.1"/>
<rect x="345" y="70.45" width="6.6" height="5" rx="0.9" fill="#ffc900"/>
<rect x="352" y="70.45" width="21.6" height="5" rx="0.9" fill="#34ad2f"/>
<rect x="418.2" y="70.45" width="8.8" height="5" rx="0.9" fill="#ff5a82"/>
<line x1="338.6" y1="81.11" x2="455.4" y2="81.11" stroke="#484848" stroke-width="1.1"/>
<rect x="345" y="78.61" width="6.6" height="5" rx="0.9" fill="#ffc900"/>
<rect x="352" y="78.61" width="21.6" height="5" rx="0.9" fill="#34ad2f"/>
<rect x="418.2" y="78.61" width="8.8" height="5" rx="0.9" fill="#ff5a82"/>
<line x1="338.6" y1="89.26" x2="455.4" y2="89.26" stroke="#484848" stroke-width="1.1"/>
<rect x="345" y="86.76" width="6.6" height="5" rx="0.9" fill="#ffc900"/>
<rect x="352" y="86.76" width="21.6" height="5" rx="0.9" fill="#34ad2f"/>
<rect x="418.2" y="86.76" width="8.8" height="5" rx="0.9" fill="#ff5a82"/>
<line x1="338.6" y1="97.42" x2="469.6" y2="97.42" stroke="#484848" stroke-width="1.1"/>
<rect x="353" y="94.92" width="6.6" height="5" rx="0.9" fill="#ffc900"/>
<rect x="360" y="94.92" width="22.4" height="5" rx="0.9" fill="#34ad2f"/>
<rect x="447.6" y="94.92" width="8.8" height="5" rx="0.9" fill="#ff5a82"/>
<line x1="338.6" y1="105.58" x2="466.4" y2="105.58" stroke="#484848" stroke-width="1.1"/>
<rect x="353.6" y="103.08" width="6.4" height="5" rx="0.9" fill="#ffc900"/>
<rect x="361" y="103.08" width="21.4" height="5" rx="0.9" fill="#34ad2f"/>
<rect x="435.6" y="103.08" width="8.8" height="5" rx="0.9" fill="#ff5a82"/>
<rect x="447.6" y="103.08" width="9.4" height="5" rx="0.9" fill="#8f88b2"/>
<line x1="338.6" y1="113.73" x2="466.4" y2="113.73" stroke="#484848" stroke-width="1.1"/>
<rect x="353.6" y="111.23" width="6.4" height="5" rx="0.9" fill="#ffc900"/>
<rect x="361" y="111.23" width="21.4" height="5" rx="0.9" fill="#34ad2f"/>
<rect x="435.6" y="111.23" width="8.8" height="5" rx="0.9" fill="#ff5a82"/>
<rect x="447.6" y="111.23" width="9.4" height="5" rx="0.9" fill="#8f88b2"/>
<line x1="338.6" y1="121.89" x2="466.4" y2="121.89" stroke="#484848" stroke-width="1.1"/>
<rect x="353.6" y="119.39" width="6.4" height="5" rx="0.9" fill="#ffc900"/>
<rect x="361" y="119.39" width="21.4" height="5" rx="0.9" fill="#34ad2f"/>
<rect x="435.6" y="119.39" width="8.8" height="5" rx="0.9" fill="#ff5a82"/>
<rect x="447.6" y="119.39" width="9.4" height="5" rx="0.9" fill="#8f88b2"/>
<line x1="338.6" y1="130.05" x2="447.6" y2="130.05" stroke="#484848" stroke-width="1.1"/>
<rect x="340" y="127.55" width="6" height="5" rx="0.9" fill="#ffc900"/>
<rect x="346.4" y="127.55" width="21.6" height="5" rx="0.9" fill="#34ad2f"/>
<rect x="413.4" y="127.55" width="8.2" height="5" rx="0.9" fill="#8f88b2"/>
<rect x="435.4" y="127.55" width="8.6" height="5" rx="0.9" fill="#ff5a82"/>
<line x1="338.6" y1="138.2" x2="435" y2="138.2" stroke="#484848" stroke-width="1.1"/>
<rect x="340" y="135.7" width="6" height="5" rx="0.9" fill="#ffc900"/>
<rect x="346.4" y="135.7" width="21.6" height="5" rx="0.9" fill="#34ad2f"/>
<rect x="371" y="135.7" width="18" height="5" rx="0.9" fill="#5b3e93"/>
<rect x="390.6" y="135.7" width="8.4" height="5" rx="0.9" fill="#ffa000"/>
<rect x="400.4" y="135.7" width="9.6" height="5" rx="0.9" fill="#8f88b2"/>
<rect x="418" y="135.7" width="9" height="5" rx="0.9" fill="#ff5a82"/>
<line x1="338.6" y1="146.36" x2="435" y2="146.36" stroke="#484848" stroke-width="1.1"/>
<rect x="340" y="143.86" width="6" height="5" rx="0.9" fill="#ffc900"/>
<rect x="346.4" y="143.86" width="21.6" height="5" rx="0.9" fill="#34ad2f"/>
<rect x="371" y="143.86" width="18" height="5" rx="0.9" fill="#5b3e93"/>
<rect x="390.6" y="143.86" width="8.4" height="5" rx="0.9" fill="#ffa000"/>
<rect x="400.4" y="143.86" width="9.6" height="5" rx="0.9" fill="#8f88b2"/>
<rect x="418" y="143.86" width="9" height="5" rx="0.9" fill="#ff5a82"/>
<line x1="338.6" y1="154.52" x2="435" y2="154.52" stroke="#484848" stroke-width="1.1"/>
<rect x="340" y="152.02" width="6" height="5" rx="0.9" fill="#ffc900"/>
<rect x="346.4" y="152.02" width="21.6" height="5" rx="0.9" fill="#34ad2f"/>
<rect x="371" y="152.02" width="18" height="5" rx="0.9" fill="#5b3e93"/>
<rect x="390.6" y="152.02" width="8.4" height="5" rx="0.9" fill="#ffa000"/>
<rect x="400.4" y="152.02" width="9.6" height="5" rx="0.9" fill="#8f88b2"/>
<rect x="418" y="152.02" width="9" height="5" rx="0.9" fill="#ff5a82"/>
<line x1="338.6" y1="162.68" x2="435" y2="162.68" stroke="#484848" stroke-width="1.1"/>
<rect x="340" y="160.18" width="6" height="5" rx="0.9" fill="#ffc900"/>
<rect x="346.4" y="160.18" width="21.6" height="5" rx="0.9" fill="#34ad2f"/>
<rect x="371" y="160.18" width="18" height="5" rx="0.9" fill="#5b3e93"/>
<rect x="390.6" y="160.18" width="8.4" height="5" rx="0.9" fill="#ffa000"/>
<rect x="400.4" y="160.18" width="9.6" height="5" rx="0.9" fill="#8f88b2"/>
<rect x="418" y="160.18" width="9" height="5" rx="0.9" fill="#ff5a82"/>
<line x1="338.6" y1="170.83" x2="435" y2="170.83" stroke="#484848" stroke-width="1.1"/>
<rect x="340" y="168.33" width="6" height="5" rx="0.9" fill="#ffc900"/>
<rect x="346.4" y="168.33" width="21.6" height="5" rx="0.9" fill="#34ad2f"/>
<rect x="371" y="168.33" width="18" height="5" rx="0.9" fill="#5b3e93"/>
<rect x="390.6" y="168.33" width="8.4" height="5" rx="0.9" fill="#ffa000"/>
<rect x="400.4" y="168.33" width="9.6" height="5" rx="0.9" fill="#8f88b2"/>
<rect x="418" y="168.33" width="9" height="5" rx="0.9" fill="#ff5a82"/>
<line x1="338.6" y1="178.99" x2="435" y2="178.99" stroke="#484848" stroke-width="1.1"/>
<rect x="340" y="176.49" width="6" height="5" rx="0.9" fill="#ffc900"/>
<rect x="346.4" y="176.49" width="21.6" height="5" rx="0.9" fill="#34ad2f"/>
<rect x="371" y="176.49" width="18" height="5" rx="0.9" fill="#5b3e93"/>
<rect x="390.6" y="176.49" width="8.4" height="5" rx="0.9" fill="#ffa000"/>
<rect x="400.4" y="176.49" width="9.6" height="5" rx="0.9" fill="#8f88b2"/>
<rect x="418" y="176.49" width="9" height="5" rx="0.9" fill="#ff5a82"/>
<line x1="338.6" y1="187.15" x2="460" y2="187.15" stroke="#484848" stroke-width="1.1"/>
<rect x="363.6" y="184.65" width="6.4" height="5" rx="0.9" fill="#ffc900"/>
<rect x="370.4" y="184.65" width="21.2" height="5" rx="0.9" fill="#34ad2f"/>
<rect x="439" y="184.65" width="9" height="5" rx="0.9" fill="#ff5a82"/>
<line x1="338.6" y1="195.3" x2="489" y2="195.3" stroke="#484848" stroke-width="1.1"/>
<rect x="348" y="192.8" width="9" height="5" rx="0.9" fill="#ffa000"/>
<rect x="374" y="192.8" width="6.4" height="5" rx="0.9" fill="#ffc900"/>
<rect x="381" y="192.8" width="21.4" height="5" rx="0.9" fill="#34ad2f"/>
<rect x="411.6" y="192.8" width="8.4" height="5" rx="0.9" fill="#ff0a1e"/>
<rect x="428.4" y="192.8" width="17.6" height="5" rx="0.9" fill="#93d47a"/>
<rect x="466" y="192.8" width="8.6" height="5" rx="0.9" fill="#ff5a82"/>
<line x1="338.6" y1="203.46" x2="489" y2="203.46" stroke="#484848" stroke-width="1.1"/>
<rect x="348" y="200.96" width="9" height="5" rx="0.9" fill="#ffa000"/>
<rect x="374" y="200.96" width="6.4" height="5" rx="0.9" fill="#ffc900"/>
<rect x="381" y="200.96" width="21.4" height="5" rx="0.9" fill="#34ad2f"/>
<rect x="411.6" y="200.96" width="8.4" height="5" rx="0.9" fill="#ff0a1e"/>
<rect x="428.4" y="200.96" width="17.6" height="5" rx="0.9" fill="#93d47a"/>
<rect x="466" y="200.96" width="8.6" height="5" rx="0.9" fill="#ff5a82"/>
<line x1="338.6" y1="211.62" x2="489" y2="211.62" stroke="#484848" stroke-width="1.1"/>
<rect x="348" y="209.12" width="9" height="5" rx="0.9" fill="#ffa000"/>
<rect x="374" y="209.12" width="6.4" height="5" rx="0.9" fill="#ffc900"/>
<rect x="381" y="209.12" width="21.4" height="5" rx="0.9" fill="#34ad2f"/>
<rect x="411.6" y="209.12" width="8.4" height="5" rx="0.9" fill="#ff0a1e"/>
<rect x="428.4" y="209.12" width="17.6" height="5" rx="0.9" fill="#93d47a"/>
<rect x="466" y="209.12" width="8.6" height="5" rx="0.9" fill="#ff5a82"/>
<line x1="338.6" y1="219.78" x2="489" y2="219.78" stroke="#484848" stroke-width="1.1"/>
<rect x="348" y="217.28" width="9" height="5" rx="0.9" fill="#ffa000"/>
<rect x="374" y="217.28" width="6.4" height="5" rx="0.9" fill="#ffc900"/>
<rect x="381" y="217.28" width="21.4" height="5" rx="0.9" fill="#34ad2f"/>
<rect x="411.6" y="217.28" width="8.4" height="5" rx="0.9" fill="#ff0a1e"/>
<rect x="428.4" y="217.28" width="17.6" height="5" rx="0.9" fill="#93d47a"/>
<rect x="466" y="217.28" width="8.6" height="5" rx="0.9" fill="#ff5a82"/>
<line x1="338.6" y1="227.93" x2="495.6" y2="227.93" stroke="#484848" stroke-width="1.1"/>
<rect x="339" y="225.43" width="21.4" height="5" rx="0.9" fill="#ffb586"/>
<rect x="370.4" y="225.43" width="6" height="5" rx="0.9" fill="#ffc900"/>
<rect x="377" y="225.43" width="21.4" height="5" rx="0.9" fill="#34ad2f"/>
<rect x="475" y="225.43" width="8.6" height="5" rx="0.9" fill="#ff5a82"/>
<line x1="338.6" y1="236.09" x2="500" y2="236.09" stroke="#484848" stroke-width="1.1"/>
<rect x="339" y="233.59" width="21.4" height="5" rx="0.9" fill="#ffb586"/>
<rect x="367.6" y="233.59" width="6" height="5" rx="0.9" fill="#ffc900"/>
<rect x="374" y="233.59" width="21.6" height="5" rx="0.9" fill="#34ad2f"/>
<rect x="413" y="233.59" width="8.6" height="5" rx="0.9" fill="#ffa000"/>
<rect x="426" y="233.59" width="17.6" height="5" rx="0.9" fill="#93d47a"/>
<rect x="474.4" y="233.59" width="8.6" height="5" rx="0.9" fill="#ff5a82"/>
<line x1="338.6" y1="244.25" x2="500" y2="244.25" stroke="#484848" stroke-width="1.1"/>
<rect x="339" y="241.75" width="21.4" height="5" rx="0.9" fill="#ffb586"/>
<rect x="367.6" y="241.75" width="6" height="5" rx="0.9" fill="#ffc900"/>
<rect x="374" y="241.75" width="21.6" height="5" rx="0.9" fill="#34ad2f"/>
<rect x="413" y="241.75" width="8.6" height="5" rx="0.9" fill="#ffa000"/>
<rect x="426" y="241.75" width="17.6" height="5" rx="0.9" fill="#93d47a"/>
<rect x="474.4" y="241.75" width="8.6" height="5" rx="0.9" fill="#ff5a82"/>
<line x1="338.6" y1="252.4" x2="500" y2="252.4" stroke="#484848" stroke-width="1.1"/>
<rect x="339" y="249.9" width="21.4" height="5" rx="0.9" fill="#ffb586"/>
<rect x="367.6" y="249.9" width="6" height="5" rx="0.9" fill="#ffc900"/>
<rect x="374" y="249.9" width="21.6" height="5" rx="0.9" fill="#34ad2f"/>
<rect x="413" y="249.9" width="8.6" height="5" rx="0.9" fill="#ffa000"/>
<rect x="426" y="249.9" width="17.6" height="5" rx="0.9" fill="#93d47a"/>
<rect x="474.4" y="249.9" width="8.6" height="5" rx="0.9" fill="#ff5a82"/>
<line x1="338.6" y1="260.56" x2="500" y2="260.56" stroke="#484848" stroke-width="1.1"/>
<rect x="339" y="258.06" width="21.4" height="5" rx="0.9" fill="#ffb586"/>
<rect x="367.6" y="258.06" width="6" height="5" rx="0.9" fill="#ffc900"/>
<rect x="374" y="258.06" width="21.6" height="5" rx="0.9" fill="#34ad2f"/>
<rect x="413" y="258.06" width="8.6" height="5" rx="0.9" fill="#ffa000"/>
<rect x="426" y="258.06" width="17.6" height="5" rx="0.9" fill="#93d47a"/>
<rect x="474.4" y="258.06" width="8.6" height="5" rx="0.9" fill="#ff5a82"/>
<line x1="338.6" y1="268.72" x2="394" y2="268.72" stroke="#484848" stroke-width="1.1"/>
<rect x="349" y="266.22" width="6.4" height="5" rx="0.9" fill="#ffc900"/>
<rect x="356" y="266.22" width="21.4" height="5" rx="0.9" fill="#34ad2f"/>
<line x1="338.6" y1="276.87" x2="420.6" y2="276.87" stroke="#484848" stroke-width="1.1"/>
<rect x="347" y="274.37" width="6.4" height="5" rx="0.9" fill="#ffc900"/>
<rect x="354" y="274.37" width="21.2" height="5" rx="0.9" fill="#34ad2f"/>
<rect x="388" y="274.37" width="8.6" height="5" rx="0.9" fill="#ff5a82"/>
<line x1="338.6" y1="285.03" x2="416.6" y2="285.03" stroke="#484848" stroke-width="1.1"/>
<rect x="347" y="282.53" width="6.4" height="5" rx="0.9" fill="#ffc900"/>
<rect x="354" y="282.53" width="21.2" height="5" rx="0.9" fill="#34ad2f"/>
<rect x="389" y="282.53" width="9" height="5" rx="0.9" fill="#ff5a82"/>
<rect x="401.4" y="282.53" width="8.6" height="5" rx="0.9" fill="#ffa000"/>
<line x1="338.6" y1="293.19" x2="416.6" y2="293.19" stroke="#484848" stroke-width="1.1"/>
<rect x="347" y="290.69" width="6.4" height="5" rx="0.9" fill="#ffc900"/>
<rect x="354" y="290.69" width="21.2" height="5" rx="0.9" fill="#34ad2f"/>
<rect x="389" y="290.69" width="9" height="5" rx="0.9" fill="#ff5a82"/>
<rect x="401.4" y="290.69" width="8.6" height="5" rx="0.9" fill="#ffa000"/>
<line x1="338.6" y1="301.34" x2="416.6" y2="301.34" stroke="#484848" stroke-width="1.1"/>
<rect x="347" y="298.84" width="6.4" height="5" rx="0.9" fill="#ffc900"/>
<rect x="354" y="298.84" width="21.2" height="5" rx="0.9" fill="#34ad2f"/>
<rect x="389" y="298.84" width="9" height="5" rx="0.9" fill="#ff5a82"/>
<rect x="401.4" y="298.84" width="8.6" height="5" rx="0.9" fill="#ffa000"/>
<line x1="338.6" y1="309.5" x2="416.6" y2="309.5" stroke="#484848" stroke-width="1.1"/>
<rect x="347" y="307" width="6.4" height="5" rx="0.9" fill="#ffc900"/>
<rect x="354" y="307" width="21.2" height="5" rx="0.9" fill="#34ad2f"/>
<rect x="389" y="307" width="9" height="5" rx="0.9" fill="#ff5a82"/>
<rect x="401.4" y="307" width="8.6" height="5" rx="0.9" fill="#ffa000"/>
<line x1="338.6" y1="317.66" x2="463.5" y2="317.66" stroke="#484848" stroke-width="1.1"/>
<rect x="355" y="315.16" width="13" height="5" rx="0.9" fill="#00786e"/>
<rect x="380.4" y="315.16" width="6" height="5" rx="0.9" fill="#ffc900"/>
<rect x="387" y="315.16" width="21.4" height="5" rx="0.9" fill="#34ad2f"/>
<line x1="338.6" y1="325.82" x2="463.5" y2="325.82" stroke="#484848" stroke-width="1.1"/>
<rect x="355" y="323.32" width="13" height="5" rx="0.9" fill="#00786e"/>
<rect x="380.4" y="323.32" width="6" height="5" rx="0.9" fill="#ffc900"/>
<rect x="387" y="323.32" width="21.4" height="5" rx="0.9" fill="#34ad2f"/>
<line x1="338.6" y1="333.97" x2="463" y2="333.97" stroke="#484848" stroke-width="1.1"/>
<rect x="354.4" y="331.47" width="12.6" height="5" rx="0.9" fill="#00786e"/>
<rect x="379.6" y="331.47" width="6" height="5" rx="0.9" fill="#ffc900"/>
<rect x="386" y="331.47" width="21.6" height="5" rx="0.9" fill="#34ad2f"/>
<line x1="338.6" y1="342.13" x2="459.6" y2="342.13" stroke="#484848" stroke-width="1.1"/>
<rect x="354.4" y="339.63" width="12.6" height="5" rx="0.9" fill="#00786e"/>
<rect x="379.6" y="339.63" width="6" height="5" rx="0.9" fill="#ffc900"/>
<rect x="386" y="339.63" width="21.6" height="5" rx="0.9" fill="#34ad2f"/>
<line x1="338.6" y1="350.29" x2="459" y2="350.29" stroke="#484848" stroke-width="1.1"/>
<rect x="355" y="347.79" width="13" height="5" rx="0.9" fill="#00786e"/>
<rect x="380.4" y="347.79" width="6" height="5" rx="0.9" fill="#ffc900"/>
<rect x="387" y="347.79" width="21.4" height="5" rx="0.9" fill="#34ad2f"/>
<line x1="338.6" y1="358.44" x2="449" y2="358.44" stroke="#484848" stroke-width="1.1"/>
<rect x="348" y="355.94" width="13" height="5" rx="0.9" fill="#00786e"/>
<rect x="374" y="355.94" width="6" height="5" rx="0.9" fill="#ffc900"/>
<rect x="380.4" y="355.94" width="21.6" height="5" rx="0.9" fill="#34ad2f"/>
<rect x="420" y="355.94" width="17" height="5" rx="0.9" fill="#93d47a"/>
<rect x="437.6" y="355.94" width="9" height="5" rx="0.9" fill="#ffa000"/>
<line x1="338.6" y1="366.6" x2="449" y2="366.6" stroke="#484848" stroke-width="1.1"/>
<rect x="348" y="364.1" width="13" height="5" rx="0.9" fill="#00786e"/>
<rect x="374" y="364.1" width="6" height="5" rx="0.9" fill="#ffc900"/>
<rect x="380.4" y="364.1" width="21.6" height="5" rx="0.9" fill="#34ad2f"/>
<rect x="420" y="364.1" width="17" height="5" rx="0.9" fill="#93d47a"/>
<rect x="437.6" y="364.1" width="9" height="5" rx="0.9" fill="#ffa000"/>
<line x1="338.6" y1="374.76" x2="449" y2="374.76" stroke="#484848" stroke-width="1.1"/>
<rect x="348" y="372.26" width="13" height="5" rx="0.9" fill="#00786e"/>
<rect x="374" y="372.26" width="6" height="5" rx="0.9" fill="#ffc900"/>
<rect x="380.4" y="372.26" width="21.6" height="5" rx="0.9" fill="#34ad2f"/>
<rect x="420" y="372.26" width="17" height="5" rx="0.9" fill="#93d47a"/>
<rect x="437.6" y="372.26" width="9" height="5" rx="0.9" fill="#ffa000"/>
<line x1="338.6" y1="382.91" x2="457" y2="382.91" stroke="#484848" stroke-width="1.1"/>
<rect x="356.4" y="380.41" width="12.6" height="5" rx="0.9" fill="#00786e"/>
<rect x="382.4" y="380.41" width="6" height="5" rx="0.9" fill="#ffc900"/>
<rect x="389" y="380.41" width="21.4" height="5" rx="0.9" fill="#34ad2f"/>
<rect x="428" y="380.41" width="17.6" height="5" rx="0.9" fill="#93d47a"/>
<rect x="446" y="380.41" width="9" height="5" rx="0.9" fill="#ffa000"/>
<line x1="338.6" y1="391.07" x2="433.4" y2="391.07" stroke="#484848" stroke-width="1.1"/>
<rect x="352" y="388.57" width="12.6" height="5" rx="0.9" fill="#00786e"/>
<rect x="378.6" y="388.57" width="6" height="5" rx="0.9" fill="#ffc900"/>
<rect x="385.2" y="388.57" width="21.6" height="5" rx="0.9" fill="#34ad2f"/>
<line x1="338.6" y1="399.23" x2="427" y2="399.23" stroke="#484848" stroke-width="1.1"/>
<rect x="345" y="396.73" width="12.6" height="5" rx="0.9" fill="#00786e"/>
<rect x="371.6" y="396.73" width="6" height="5" rx="0.9" fill="#ffc900"/>
<rect x="378" y="396.73" width="21.6" height="5" rx="0.9" fill="#34ad2f"/>
<line x1="338.6" y1="407.39" x2="520" y2="407.39" stroke="#484848" stroke-width="1.1"/>
<rect x="361.6" y="404.89" width="6.4" height="5" rx="0.9" fill="#ffc900"/>
<rect x="368.4" y="404.89" width="21.6" height="5" rx="0.9" fill="#34ad2f"/>
<rect x="407.6" y="404.89" width="8.4" height="5" rx="0.9" fill="#ff5a82"/>
<rect x="481" y="404.89" width="12.6" height="5" rx="0.9" fill="#00786e"/>
<rect x="496" y="404.89" width="9" height="5" rx="0.9" fill="#ff0a1e"/>
<line x1="338.6" y1="415.54" x2="520" y2="415.54" stroke="#484848" stroke-width="1.1"/>
<rect x="361.6" y="413.04" width="6.4" height="5" rx="0.9" fill="#ffc900"/>
<rect x="368.4" y="413.04" width="21.6" height="5" rx="0.9" fill="#34ad2f"/>
<rect x="407.6" y="413.04" width="8.4" height="5" rx="0.9" fill="#ff5a82"/>
<rect x="481" y="413.04" width="12.6" height="5" rx="0.9" fill="#00786e"/>
<rect x="496" y="413.04" width="9" height="5" rx="0.9" fill="#ff0a1e"/>
<line x1="338.6" y1="423.7" x2="520" y2="423.7" stroke="#484848" stroke-width="1.1"/>
<rect x="361.6" y="421.2" width="6.4" height="5" rx="0.9" fill="#ffc900"/>
<rect x="368.4" y="421.2" width="21.6" height="5" rx="0.9" fill="#34ad2f"/>
<rect x="407.6" y="421.2" width="8.4" height="5" rx="0.9" fill="#ff5a82"/>
<rect x="481" y="421.2" width="12.6" height="5" rx="0.9" fill="#00786e"/>
<rect x="496" y="421.2" width="9" height="5" rx="0.9" fill="#ff0a1e"/>
<line x1="338.6" y1="431.86" x2="513.6" y2="431.86" stroke="#484848" stroke-width="1.1"/>
<rect x="360" y="429.36" width="7" height="5" rx="0.9" fill="#ffc900"/>
<rect x="367.4" y="429.36" width="21.2" height="5" rx="0.9" fill="#34ad2f"/>
<rect x="406" y="429.36" width="8.6" height="5" rx="0.9" fill="#ff5a82"/>
<rect x="479.6" y="429.36" width="12.8" height="5" rx="0.9" fill="#00786e"/>
<rect x="494.6" y="429.36" width="9" height="5" rx="0.9" fill="#ff0a1e"/>
<line x1="338.6" y1="440.01" x2="483.4" y2="440.01" stroke="#484848" stroke-width="1.1"/>
<rect x="361" y="437.51" width="6.4" height="5" rx="0.9" fill="#ffc900"/>
<rect x="368" y="437.51" width="21" height="5" rx="0.9" fill="#34ad2f"/>
<rect x="459" y="437.51" width="13" height="5" rx="0.9" fill="#00786e"/>
<rect x="474.4" y="437.51" width="9" height="5" rx="0.9" fill="#ff0a1e"/>
<line x1="338.6" y1="448.17" x2="512.4" y2="448.17" stroke="#484848" stroke-width="1.1"/>
<rect x="361" y="445.67" width="6.4" height="5" rx="0.9" fill="#ffc900"/>
<rect x="368" y="445.67" width="21" height="5" rx="0.9" fill="#34ad2f"/>
<rect x="482.6" y="445.67" width="13" height="5" rx="0.9" fill="#00786e"/>
<rect x="498" y="445.67" width="8.6" height="5" rx="0.9" fill="#ff0a1e"/>
<line x1="338.6" y1="456.33" x2="458.6" y2="456.33" stroke="#484848" stroke-width="1.1"/>
<rect x="345.6" y="453.83" width="6.4" height="5" rx="0.9" fill="#ffc900"/>
<rect x="352.6" y="453.83" width="21.4" height="5" rx="0.9" fill="#34ad2f"/>
<rect x="432" y="453.83" width="13" height="5" rx="0.9" fill="#00786e"/>
<rect x="447" y="453.83" width="9" height="5" rx="0.9" fill="#ff0a1e"/>
<line x1="338.6" y1="464.48" x2="484.6" y2="464.48" stroke="#484848" stroke-width="1.1"/>
<rect x="351" y="461.98" width="6.4" height="5" rx="0.9" fill="#ffc900"/>
<rect x="358" y="461.98" width="21" height="5" rx="0.9" fill="#34ad2f"/>
<rect x="403.6" y="461.98" width="8.8" height="5" rx="0.9" fill="#ffa000"/>
<rect x="445" y="461.98" width="13" height="5" rx="0.9" fill="#00786e"/>
<rect x="460" y="461.98" width="9" height="5" rx="0.9" fill="#ff0a1e"/>
<line x1="338.6" y1="472.64" x2="453.6" y2="472.64" stroke="#484848" stroke-width="1.1"/>
<rect x="349" y="470.14" width="6" height="5" rx="0.9" fill="#ffc900"/>
<rect x="355.6" y="470.14" width="21.4" height="5" rx="0.9" fill="#34ad2f"/>
<rect x="394.6" y="470.14" width="8.8" height="5" rx="0.9" fill="#ffa000"/>
<rect x="424" y="470.14" width="13.6" height="5" rx="0.9" fill="#00786e"/>
<rect x="439.6" y="470.14" width="9" height="5" rx="0.9" fill="#ff0a1e"/>
<line x1="338.6" y1="480.8" x2="453.6" y2="480.8" stroke="#484848" stroke-width="1.1"/>
<rect x="349" y="478.3" width="6" height="5" rx="0.9" fill="#ffc900"/>
<rect x="355.6" y="478.3" width="21.4" height="5" rx="0.9" fill="#34ad2f"/>
<rect x="394.6" y="478.3" width="8.8" height="5" rx="0.9" fill="#ffa000"/>
<rect x="424" y="478.3" width="13.6" height="5" rx="0.9" fill="#00786e"/>
<rect x="439.6" y="478.3" width="9" height="5" rx="0.9" fill="#ff0a1e"/>
<line x1="338.6" y1="488.96" x2="451" y2="488.96" stroke="#484848" stroke-width="1.1"/>
<rect x="349" y="486.46" width="6" height="5" rx="0.9" fill="#ffc900"/>
<rect x="355.6" y="486.46" width="21.4" height="5" rx="0.9" fill="#34ad2f"/>
<rect x="394.6" y="486.46" width="8.8" height="5" rx="0.9" fill="#ffa000"/>
<rect x="424" y="486.46" width="13.6" height="5" rx="0.9" fill="#00786e"/>
<rect x="439.6" y="486.46" width="9" height="5" rx="0.9" fill="#ff0a1e"/>
<line x1="338.6" y1="497.11" x2="451" y2="497.11" stroke="#484848" stroke-width="1.1"/>
<rect x="349" y="494.61" width="6" height="5" rx="0.9" fill="#ffc900"/>
<rect x="355.6" y="494.61" width="21.4" height="5" rx="0.9" fill="#34ad2f"/>
<rect x="394.6" y="494.61" width="8.8" height="5" rx="0.9" fill="#ffa000"/>
<rect x="424" y="494.61" width="13.6" height="5" rx="0.9" fill="#00786e"/>
<rect x="439.6" y="494.61" width="9" height="5" rx="0.9" fill="#ff0a1e"/>
<line x1="338.4" y1="507.9" x2="515.2" y2="507.9" stroke="#444" stroke-width="1.3"/>
<line x1="338.4" y1="507.9" x2="338.4" y2="510.1" stroke="#444" stroke-width="1"/>
<line x1="358.04" y1="507.9" x2="358.04" y2="510.1" stroke="#444" stroke-width="1"/>
<line x1="377.68" y1="507.9" x2="377.68" y2="510.1" stroke="#444" stroke-width="1"/>
<line x1="397.32" y1="507.9" x2="397.32" y2="510.1" stroke="#444" stroke-width="1"/>
<line x1="416.96" y1="507.9" x2="416.96" y2="510.1" stroke="#444" stroke-width="1"/>
<line x1="436.6" y1="507.9" x2="436.6" y2="510.1" stroke="#444" stroke-width="1"/>
<line x1="456.24" y1="507.9" x2="456.24" y2="510.1" stroke="#444" stroke-width="1"/>
<line x1="475.88" y1="507.9" x2="475.88" y2="510.1" stroke="#444" stroke-width="1"/>
<line x1="495.52" y1="507.9" x2="495.52" y2="510.1" stroke="#444" stroke-width="1"/>
<line x1="515.16" y1="507.9" x2="515.16" y2="510.1" stroke="#444" stroke-width="1"/>
<text x="336.8" y="519.3" class="ax">0</text>
<text x="356.44" y="519.3" class="ax">50</text>
<text x="376.08" y="519.3" class="ax">100</text>
<text x="395.72" y="519.3" class="ax">150</text>
<text x="415.36" y="519.3" class="ax">200</text>
<text x="435" y="519.3" class="ax">250</text>
<text x="454.64" y="519.3" class="ax">300</text>
<text x="474.28" y="519.3" class="ax">350</text>
<text x="493.92" y="519.3" class="ax">400</text>
<text x="513.56" y="519.3" class="ax">450</text>
<text x="523.8" y="519.3" class="ax" letter-spacing="0.7">a.a</text>
<text x="336.5" y="504.6" class="ax">5’</text>
<text x="516.5" y="504.6" class="ax">3’</text>
<rect x="495.4" y="26.1" width="26.7" height="4.8" rx="1.2" fill="#8f88b2"/>
<text x="524.3" y="30.8" class="mt">Motif 6</text>
<rect x="495.4" y="34.27" width="26.7" height="4.8" rx="1.2" fill="#ffc900"/>
<text x="524.3" y="38.97" class="mt">Motif 2</text>
<rect x="495.4" y="42.44" width="26.7" height="4.8" rx="1.2" fill="#34ad2f"/>
<text x="524.3" y="47.14" class="mt">Motif 1</text>
<rect x="495.4" y="50.61" width="26.7" height="4.8" rx="1.2" fill="#ff5a82"/>
<text x="524.3" y="55.31" class="mt">Motif 3</text>
<rect x="495.4" y="58.78" width="26.7" height="4.8" rx="1.2" fill="#5b3e93"/>
<text x="524.3" y="63.48" class="mt">Motif 9</text>
<rect x="495.4" y="66.95" width="26.7" height="4.8" rx="1.2" fill="#ffa000"/>
<text x="524.3" y="71.65" class="mt">Motif 8</text>
<rect x="495.4" y="75.12" width="26.7" height="4.8" rx="1.2" fill="#ff0a1e"/>
<text x="524.3" y="79.82" class="mt">Motif 5</text>
<rect x="495.4" y="83.29" width="26.7" height="4.8" rx="1.2" fill="#93d47a"/>
<text x="524.3" y="87.99" class="mt">Motif 7</text>
<rect x="495.4" y="91.46" width="26.7" height="4.8" rx="1.2" fill="#ffb586"/>
<text x="524.3" y="96.16" class="mt">Motif 10</text>
<rect x="495.4" y="99.63" width="26.7" height="4.8" rx="1.2" fill="#00786e"/>
<text x="524.3" y="104.33" class="mt">Motif 4</text>
</svg>
</body></html>
